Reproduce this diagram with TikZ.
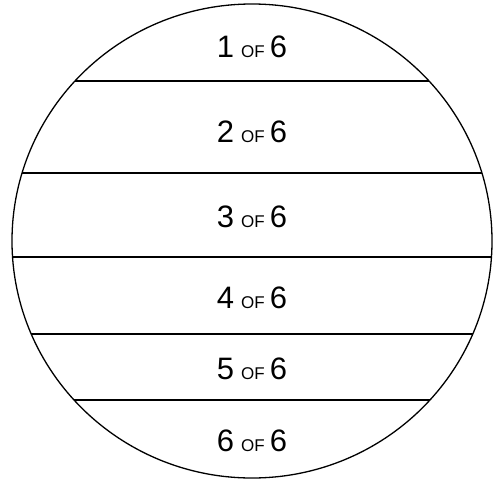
\documentclass[tikz,border=0pt]{standalone}
\usepackage{fontspec}
\setmainfont{Liberation Sans}
\begin{document}
\begin{tikzpicture}[x=1pt,y=-1pt,
  rim/.style={line width=1.3pt},
  band/.style={line width=1.8pt},
  lbl/.style={font=\fontsize{31}{33}\selectfont, inner sep=0pt},
]
\useasboundingbox (0,0) rectangle (493,482);
\coordinate (c) at (252,241);
\begin{scope}
  \clip (c) ellipse [x radius=240, y radius=237];
  \foreach \y [count=\i] in {81,173,257,334,400}
    \draw[band] (0,\y) coordinate (l\i) -- (493,\y) coordinate (r\i);
\end{scope}
\draw[rim] (c) ellipse [x radius=240, y radius=237];
\foreach \y/\n in {47/1,132/2,217/3,298/4,369/5,441/6}
  \node[lbl] (t\n) at (252,\y) {\n\hspace{7pt}{\fontsize{17}{19}\selectfont OF}\hspace{5pt}6};
\end{tikzpicture}
\end{document}
